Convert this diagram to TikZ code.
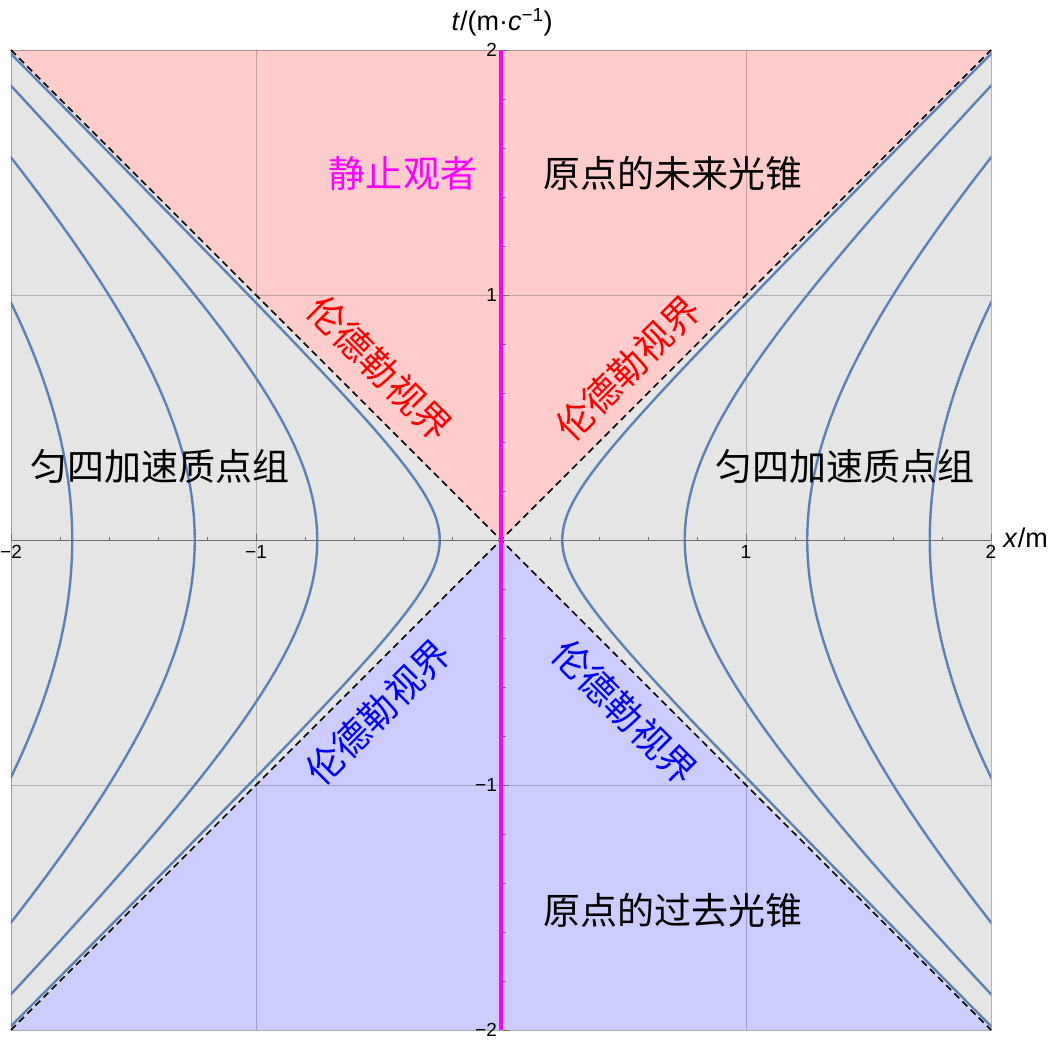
\documentclass[tikz,border=0pt]{standalone}
\usepackage{fontspec}
\setmainfont{Liberation Sans}
\newfontfamily\cjk{Noto Sans CJK SC}
\definecolor{pinkc}{RGB}{255,204,204}
\definecolor{bluec}{RGB}{204,204,255}
\definecolor{grayc}{RGB}{229,229,229}
\definecolor{hypc}{RGB}{94,129,181}
\definecolor{axisc}{RGB}{110,110,110}
\definecolor{magc}{RGB}{255,0,255}
\definecolor{redc}{RGB}{255,0,0}
\definecolor{bluet}{RGB}{0,0,255}
\tikzset{
  cn/.style={font=\cjk\fontsize{37}{40}\selectfont, inner sep=0pt},
  hyp/.style={color=hypc, line width=2.4pt},
  horizon/.style={dash pattern=on 7pt off 4.5pt, line width=1.7pt, black},
  ticklab/.style={font=\fontsize{19}{22}\selectfont, inner sep=1pt},
  gridl/.style={black, opacity=0.22, line width=0.7pt},
  axisl/.style={axisc, line width=0.9pt},
  axlab/.style={font=\fontsize{27}{30}\selectfont, inner sep=0pt},
}
\begin{document}
\begin{tikzpicture}[x=245pt,y=245pt]
\useasboundingbox (-2.044898,-2.044898) rectangle (2.265306,2.204082);
\coordinate (O) at (0,0);
\coordinate (TL) at (-2,2);
\coordinate (TR) at (2,2);
\coordinate (BL) at (-2,-2);
\coordinate (BR) at (2,-2);
\coordinate (T) at (0,2);
\coordinate (B) at (0,-2);
\coordinate (L) at (-2,0);
\coordinate (R) at (2,0);
% regions
\fill[grayc] (BL) rectangle (TR);
\fill[pinkc] (O) -- (TL) -- (TR) -- cycle;
\fill[bluec] (O) -- (BL) -- (BR) -- cycle;
% grid
\foreach \g in {-1,1} {
  \draw[gridl] (\g,-2) -- (\g,2);
  \draw[gridl] (-2,\g) -- (2,\g);
}
\draw[black, opacity=0.3, line width=0.8pt] (BL) rectangle (TR);
% hyperbolas
\begin{scope}
\clip (BL) rectangle (TR);
\foreach \a in {0.25,0.75,1.25,1.75} {
  \draw[hyp] plot[domain=-2.05:2.05, samples=241, smooth, variable=\t] ({sqrt(\a*\a+\t*\t)},{\t});
  \draw[hyp] plot[domain=-2.05:2.05, samples=241, smooth, variable=\t] ({-sqrt(\a*\a+\t*\t)},{\t});
}
\end{scope}
% horizons
\draw[horizon] (TL) -- (BR);
\draw[horizon] (BL) -- (TR);
% x axis
\draw[axisl] (L) -- (R);
\foreach \k in {-10,...,10} {
  \pgfmathsetmacro{\xx}{\k/5}
  \pgfmathsetmacro{\isint}{mod(abs(\k),5)==0 ? 1 : 0}
  \ifdim\isint pt>0.5pt
    \draw[axisl] (\xx,0) -- ++(0,6pt);
  \else
    \draw[axisl] (\xx,0) -- ++(0,3.5pt);
  \fi
}
% static observer line
\draw[magc, line width=3.6pt] (B) -- (T);
% y ticks
\foreach \k in {-10,...,10} {
  \pgfmathsetmacro{\yy}{\k/5}
  \pgfmathsetmacro{\isint}{mod(abs(\k),5)==0 ? 1 : 0}
  \ifdim\isint pt>0.5pt
    \draw[axisl] (0,\yy) ++(1.8pt,0) -- ++(6pt,0);
  \else
    \draw[axisl] (0,\yy) ++(1.8pt,0) -- ++(3.5pt,0);
  \fi
}
% tick labels
\node[ticklab, anchor=north] (xm2) at (-2,-0.016) {−2};
\node[ticklab, anchor=north] (xm1) at (-1,-0.016) {−1};
\node[ticklab, anchor=north] (xp1) at (1,-0.016) {1};
\node[ticklab, anchor=north] (xp2) at (2,-0.016) {2};
\node[ticklab, anchor=east] (yp2) at (-0.012,2) {2};
\node[ticklab, anchor=east] (yp1) at (-0.012,1) {1};
\node[ticklab, anchor=east] (ym1) at (-0.012,-1) {−1};
\node[ticklab, anchor=east] (ym2) at (-0.012,-2) {−2};
% axis labels
\node[axlab] (tlab) at (0.005,2.112) {\textit{t}/(m·\textit{c}\textsuperscript{−1})};
\node[axlab, anchor=west] (xlab) at (2.05,0.01) {\textit{x}/m};
% text labels
\node[cn, magc] (obs) at (-0.40,1.498) {静止观者};
\node[cn, black] (fut) at (0.702,1.498) {原点的未来光锥};
\node[cn, black] (past) at (0.702,-1.51) {原点的过去光锥};
\node[cn, black] (grpL) at (-1.392,0.302) {匀四加速质点组};
\node[cn, black] (grpR) at (1.404,0.302) {匀四加速质点组};
\node[cn, redc, rotate=-45] (hUL) at (-0.494,0.702) {伦德勒视界};
\node[cn, redc, rotate=45] (hUR) at (0.518,0.702) {伦德勒视界};
\node[cn, bluet, rotate=45] (hLL) at (-0.502,-0.702) {伦德勒视界};
\node[cn, bluet, rotate=-45] (hLR) at (0.506,-0.702) {伦德勒视界};
\end{tikzpicture}
\end{document}
